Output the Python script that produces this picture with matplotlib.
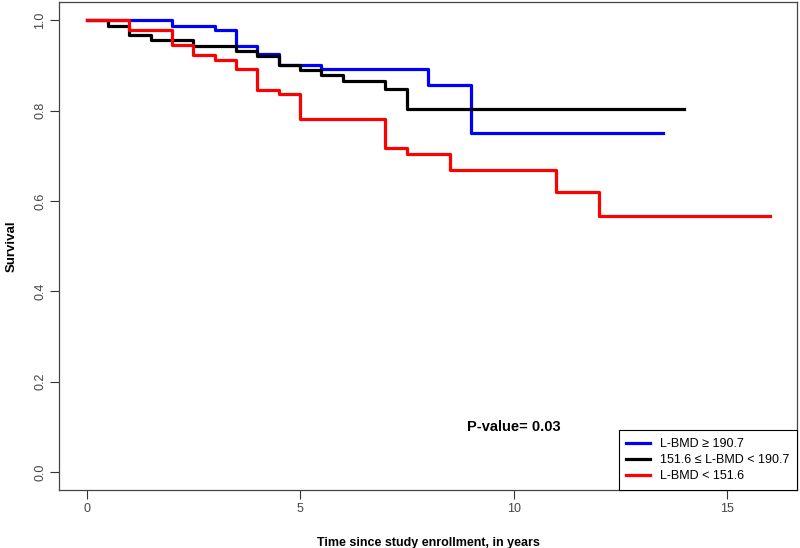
import matplotlib
matplotlib.use("Agg")
import matplotlib.pyplot as plt

# Kaplan-Meier steps (time in years, survival)
blue_t = [0, 2.0, 3.0, 3.5, 4.0, 4.5, 5.5, 8.0, 9.0, 13.5]
blue_s = [1.0, 0.988, 0.979, 0.944, 0.926, 0.901, 0.893, 0.857, 0.751, 0.751]

black_t = [0, 0.5, 1.0, 1.5, 2.5, 3.5, 4.0, 4.5, 5.0, 5.5, 6.0, 7.0, 7.5, 14.0]
black_s = [1.0, 0.988, 0.968, 0.957, 0.944, 0.933, 0.921, 0.901, 0.889, 0.878,
           0.865, 0.847, 0.803, 0.803]

red_t = [0, 1.0, 2.0, 2.5, 3.0, 3.5, 4.0, 4.5, 5.0, 7.0, 7.5, 8.5, 11.0, 12.0, 16.0]
red_s = [1.0, 0.979, 0.946, 0.924, 0.912, 0.891, 0.846, 0.837, 0.781, 0.718,
         0.704, 0.668, 0.619, 0.567, 0.567]

labels = ["L-BMD \u2265 190.7", "151.6 \u2264 L-BMD < 190.7", "L-BMD < 151.6"]
x_ticks = [0, 5, 10, 15]
y_ticks = [0.0, 0.2, 0.4, 0.6, 0.8, 1.0]

plt.rcParams["font.family"] = ["Liberation Sans", "DejaVu Sans"]

fig = plt.figure(figsize=(8, 5.48), dpi=100)
ax = fig.add_axes([0.074, 0.106, 0.9225, 0.89])

lw = 2.3
ax.step(blue_t, blue_s, where="post", color="#0000FF", lw=lw, label=labels[0])
ax.step(black_t, black_s, where="post", color="black", lw=lw, label=labels[1])
ax.step(red_t, red_s, where="post", color="#FF0000", lw=lw, label=labels[2])

ax.set_xlim(-0.64, 16.64)
ax.set_ylim(-0.04, 1.04)
ax.set_xticks(x_ticks)
ax.set_yticks(y_ticks)
ax.set_xticklabels([str(t) for t in x_ticks], fontsize=9, color="#444444")
ax.set_yticklabels(["%.1f" % t for t in y_ticks], fontsize=9,
                   color="#444444", rotation=90, va="center")
ax.tick_params(direction="out", length=6.5, width=0.8, color="#333333", pad=3)
for sp in ax.spines.values():
    sp.set_color("#444444")
    sp.set_linewidth(0.9)

ax.set_xlabel("Time since study enrollment, in years",
              fontweight="bold", fontsize=9, labelpad=16)
ax.set_ylabel("Survival", fontweight="bold", fontsize=9.5, labelpad=12)

ax.text(10, 0.1, "P-value= 0.03", ha="center", va="center", fontweight="bold", fontsize=10.5)

leg = ax.legend(loc="lower right", borderaxespad=0, fancybox=False, framealpha=1,
                edgecolor="black", fontsize=9, handlelength=1.9, handletextpad=0.8,
                labelspacing=0.32, borderpad=0.62)
leg.get_frame().set_linewidth(0.8)

fig.savefig("out.png", dpi=100)
